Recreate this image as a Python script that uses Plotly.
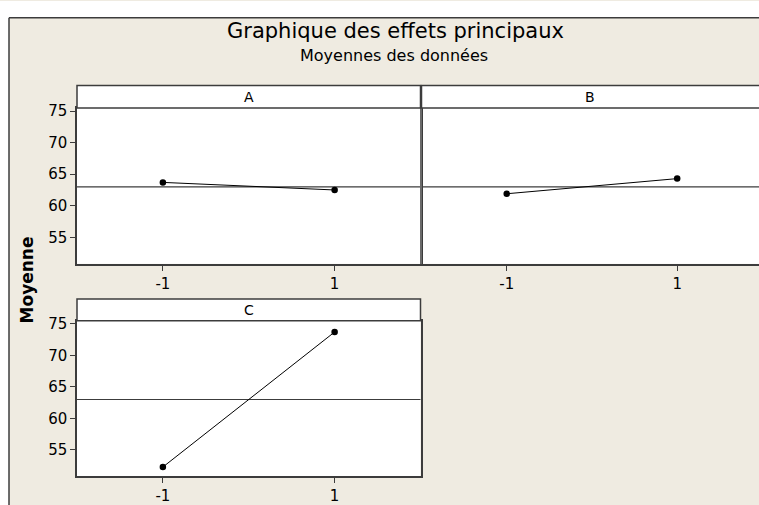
import plotly.graph_objects as go

# ---- data ----
levels = [-1, 1]
level_labels = ["-1", "1"]
factors = ["A", "B", "C"]
mean_A = [63.7, 62.5]
mean_B = [61.9, 64.3]
mean_C = [52.3, 73.7]
grand_mean = 63.0
y_ticks = [55, 60, 65, 70, 75]

title = "Graphique des effets principaux"
subtitle = "Moyennes des données"
y_label = "Moyenne"

W, H = 759, 505
def px(x):
    return x / W
def py(y):
    return 1 - y / H

FONT = "DejaVu Sans"
BG = "#EFEBE1"
DARK = "#3c3c3c"

fig = go.Figure()

series = [mean_A, mean_B, mean_C]
axes = [("x", "y"), ("x2", "y2"), ("x3", "y3")]
for vals, (xa, ya) in zip(series, axes):
    fig.add_trace(go.Scatter(
        x=levels, y=vals, xaxis=xa, yaxis=ya, mode="lines+markers",
        line=dict(color="black", width=1),
        marker=dict(color="black", size=6.5),
        showlegend=False, hoverinfo="skip"))

# panel geometry (pixels)
top_y = (104, 263)
bot_y = (321, 480)
left_x = (77, 420.5)
right_x = (421.5, 759)
yr = [50.8, 75.5]

common_x = dict(showgrid=False, zeroline=False, ticks="outside", ticklen=5,
                tickcolor=DARK, tickwidth=1, tickvals=levels, ticktext=level_labels,
                showline=True, mirror=True, linecolor=DARK, linewidth=1.5,
                tickfont=dict(family=FONT, size=15, color="black"))
common_y = dict(showgrid=False, zeroline=False, ticks="outside", ticklen=5,
                tickcolor=DARK, tickwidth=1, tickvals=y_ticks,
                showline=True, mirror=True, linecolor=DARK, linewidth=1.5,
                range=yr, tickfont=dict(family=FONT, size=15, color="black"))

fig.update_layout(
    width=W, height=H, margin=dict(l=0, r=0, t=0, b=0),
    paper_bgcolor=BG, plot_bgcolor="white",
    xaxis=dict(common_x, domain=[px(left_x[0]), px(left_x[1])], range=[-2, 2], anchor="y"),
    yaxis=dict(common_y, domain=[py(top_y[1]), py(top_y[0])], anchor="x"),
    xaxis2=dict(common_x, domain=[px(right_x[0]), 1.0], range=[-2, 1.96], anchor="y2"),
    yaxis2=dict(common_y, domain=[py(top_y[1]), py(top_y[0])], anchor="x2",
                showticklabels=False, ticks="", mirror=False, linecolor="#6a6a6a", linewidth=2),
    xaxis3=dict(common_x, domain=[px(left_x[0]), px(left_x[1])], range=[-2, 2], anchor="y3"),
    yaxis3=dict(common_y, domain=[py(bot_y[1]), py(bot_y[0])], anchor="x3"),
)

shapes = []
# white outside of frame
shapes.append(dict(type="rect", xref="paper", yref="paper", x0=-0.01, x1=1.01,
                   y0=py(12), y1=1.01, fillcolor="white", line=dict(width=0), layer="below"))
shapes.append(dict(type="rect", xref="paper", yref="paper", x0=-0.01, x1=px(9),
                   y0=-0.01, y1=1.01, fillcolor="white", line=dict(width=0), layer="below"))
# frame lines
shapes.append(dict(type="line", xref="paper", yref="paper", x0=px(9), x1=1.01,
                   y0=py(12), y1=py(12), line=dict(color=DARK, width=1.5)))
shapes.append(dict(type="line", xref="paper", yref="paper", x0=px(9), x1=px(9),
                   y0=py(12), y1=-0.01, line=dict(color=DARK, width=1.5)))
# strips
strip_specs = [(left_x, (81, 104), "A"), (right_x, (81, 104), "B"), (left_x, (299, 321), "C")]
annotations = []
for (x0, x1), (s0, s1), lab in strip_specs:
    right = px(x1) if x1 < 759 else 1.02
    shapes.append(dict(type="rect", xref="paper", yref="paper", x0=px(x0), x1=right,
                       y0=py(s1), y1=py(s0), fillcolor="white",
                       line=dict(color=DARK, width=1.5)))
    annotations.append(dict(text=lab, xref="paper", yref="paper",
                            x=px((x0 + x1) / 2), y=py((s0 + s1) / 2),
                            showarrow=False, xanchor="center", yanchor="middle",
                            font=dict(family=FONT, size=14, color="black")))
# grand mean reference lines
for xa, ya in [("x", "y"), ("x2", "y2"), ("x3", "y3")]:
    shapes.append(dict(type="line", xref=f"{xa} domain", yref=ya, x0=0, x1=1,
                       y0=grand_mean, y1=grand_mean, line=dict(color=DARK, width=1.2),
                       layer="below"))

annotations.append(dict(text=title, xref="paper", yref="paper", x=px(395), y=py(26),
                        showarrow=False, xanchor="center", yanchor="middle",
                        font=dict(family=FONT, size=21, color="black")))
annotations.append(dict(text=subtitle, xref="paper", yref="paper", x=px(394), y=py(50),
                        showarrow=False, xanchor="center", yanchor="middle",
                        font=dict(family=FONT, size=16, color="black")))
annotations.append(dict(text=f"<b>{y_label}</b>", xref="paper", yref="paper", x=px(27), y=py(280),
                        showarrow=False, xanchor="center", yanchor="middle", textangle=-90,
                        font=dict(family=FONT, size=17, color="black")))

fig.update_layout(shapes=shapes, annotations=annotations)
fig.write_html(
    "out.html",
    config={"displayModeBar": False},
    post_script="document.body.style.margin='0';document.body.style.overflow='hidden';",
)
